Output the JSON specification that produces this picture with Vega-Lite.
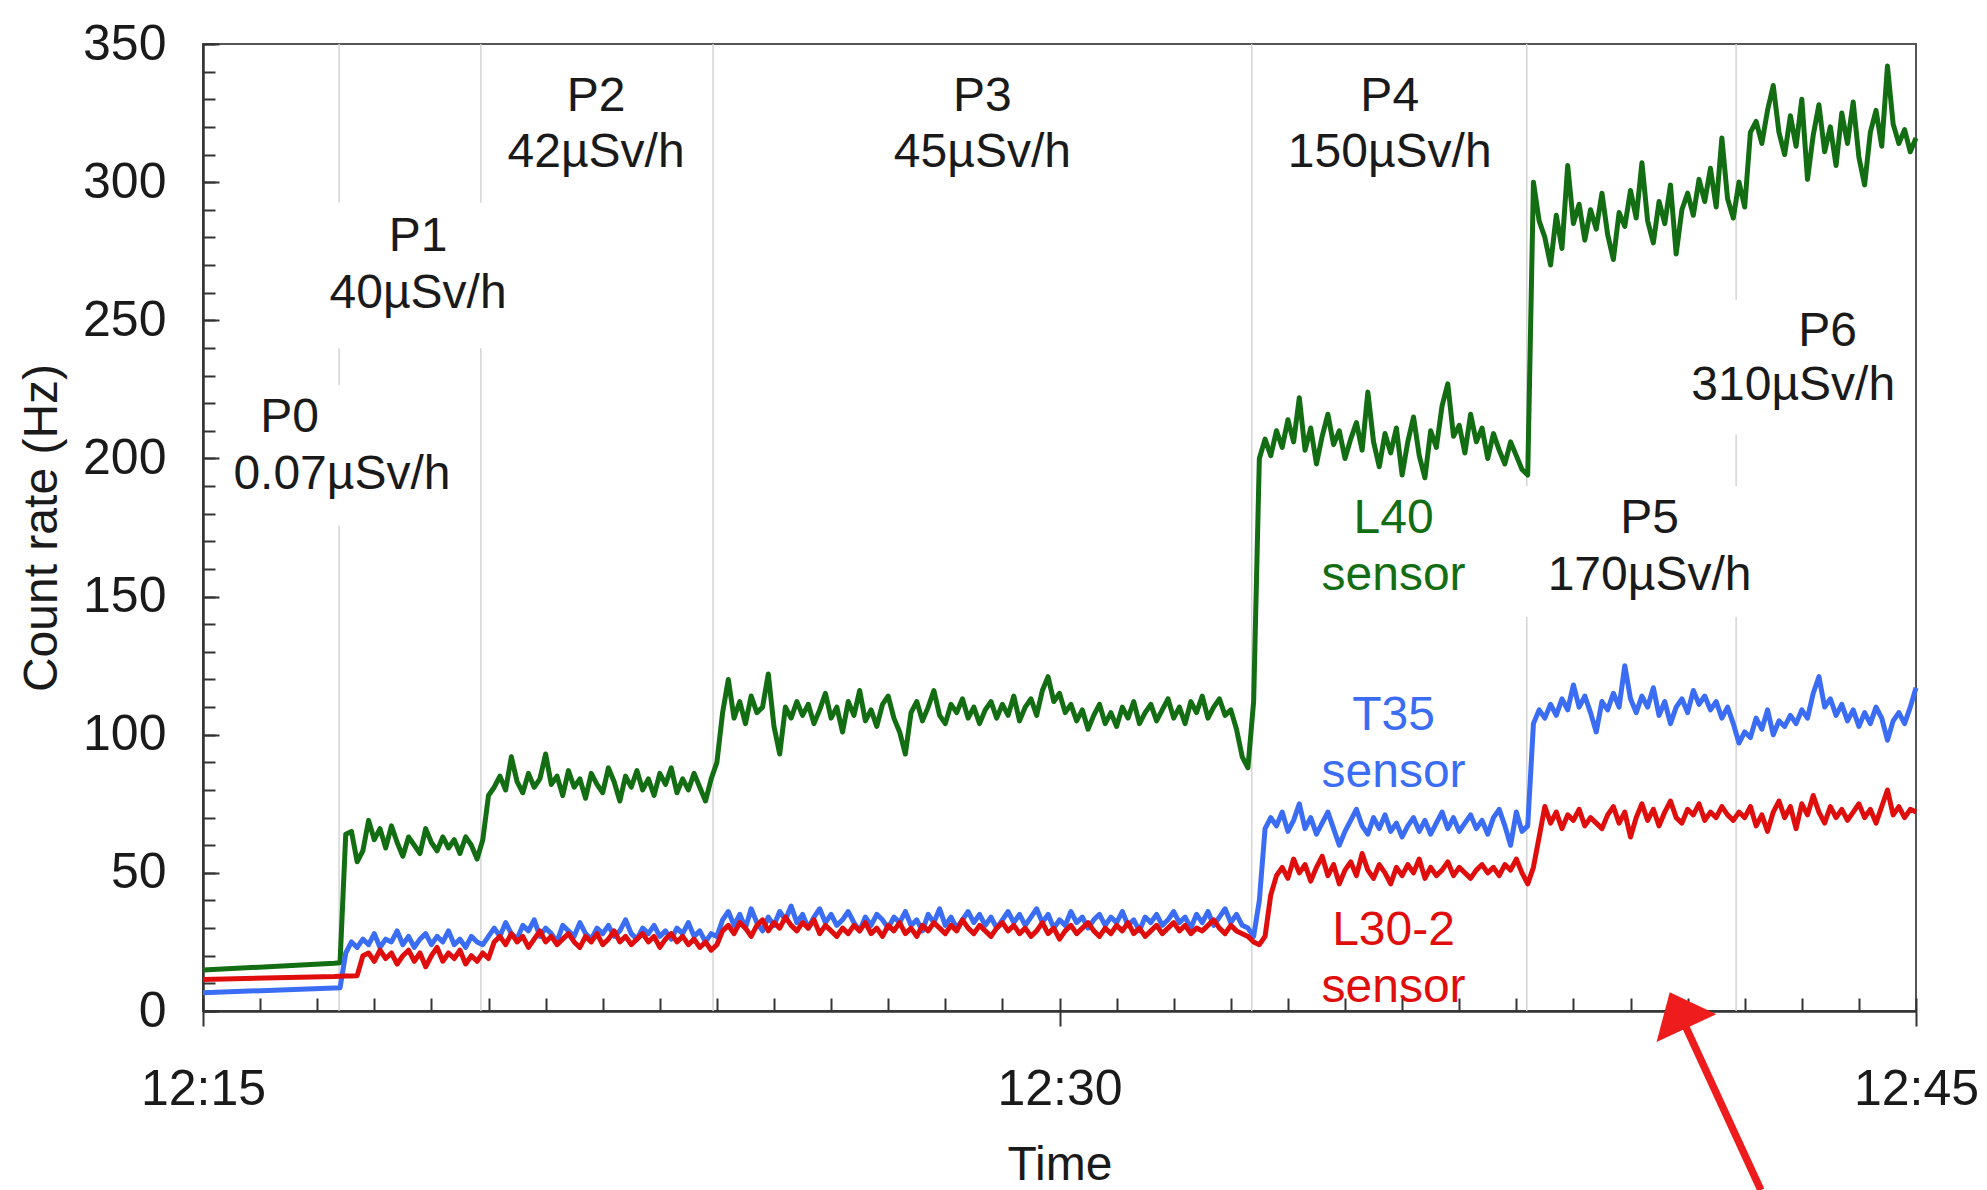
{
  "$schema": "https://vega.github.io/schema/vega-lite/v6.json",
  "width": 1713,
  "height": 967,
  "autosize": {"type": "none"},
  "padding": {"left": 203, "top": 44, "right": 71, "bottom": 179},
  "background": "white",
  "config": {
    "view": {"stroke": "#555555", "strokeWidth": 2},
    "axis": {
      "grid": false,
      "labelFont": "Liberation Sans",
      "labelFontSize": 50,
      "labelColor": "#1a1a1a",
      "titleFont": "Liberation Sans",
      "titleFontSize": 48,
      "titleFontWeight": "normal",
      "titleColor": "#1a1a1a",
      "domainColor": "#333333",
      "domainWidth": 2,
      "tickColor": "#333333",
      "tickWidth": 2
    },
    "text": {"font": "Liberation Sans"}
  },
  "resolve": {
    "scale": {"x": "shared", "y": "shared", "color": "shared"},
    "axis": {"x": "independent", "y": "independent"}
  },
  "layer": [
    {
      "data": {
        "values": [
          {"t": "2024-01-01T12:17:23", "y": 0, "y2": 175.7},
          {"t": "2024-01-01T12:17:23", "y": 226.6, "y2": 239.9},
          {"t": "2024-01-01T12:17:23", "y": 292.5, "y2": 350},
          {"t": "2024-01-01T12:19:52", "y": 0, "y2": 239.9},
          {"t": "2024-01-01T12:19:52", "y": 292.5, "y2": 350},
          {"t": "2024-01-01T12:23:56", "y": 0, "y2": 350},
          {"t": "2024-01-01T12:33:22", "y": 0, "y2": 350},
          {"t": "2024-01-01T12:38:11", "y": 0, "y2": 142.7},
          {"t": "2024-01-01T12:38:11", "y": 189.9, "y2": 350},
          {"t": "2024-01-01T12:41:51", "y": 0, "y2": 142.7},
          {"t": "2024-01-01T12:41:51", "y": 189.9, "y2": 208.7},
          {"t": "2024-01-01T12:41:51", "y": 257.4, "y2": 350}
        ]
      },
      "mark": {"type": "rule", "color": "#d4d4d4", "strokeWidth": 1.5},
      "encoding": {
        "x": {
          "field": "t", "type": "temporal",
          "scale": {"domain": [{"year": 2024, "month": 1, "date": 1, "hours": 12, "minutes": 15}, {"year": 2024, "month": 1, "date": 1, "hours": 12, "minutes": 45}], "nice": false},
          "axis": {"orient": "bottom", "values": [
            {"year": 2024, "month": 1, "date": 1, "hours": 12, "minutes": 15},
            {"year": 2024, "month": 1, "date": 1, "hours": 12, "minutes": 16},
            {"year": 2024, "month": 1, "date": 1, "hours": 12, "minutes": 17},
            {"year": 2024, "month": 1, "date": 1, "hours": 12, "minutes": 18},
            {"year": 2024, "month": 1, "date": 1, "hours": 12, "minutes": 19},
            {"year": 2024, "month": 1, "date": 1, "hours": 12, "minutes": 20},
            {"year": 2024, "month": 1, "date": 1, "hours": 12, "minutes": 21},
            {"year": 2024, "month": 1, "date": 1, "hours": 12, "minutes": 22},
            {"year": 2024, "month": 1, "date": 1, "hours": 12, "minutes": 23},
            {"year": 2024, "month": 1, "date": 1, "hours": 12, "minutes": 24},
            {"year": 2024, "month": 1, "date": 1, "hours": 12, "minutes": 25},
            {"year": 2024, "month": 1, "date": 1, "hours": 12, "minutes": 26},
            {"year": 2024, "month": 1, "date": 1, "hours": 12, "minutes": 27},
            {"year": 2024, "month": 1, "date": 1, "hours": 12, "minutes": 28},
            {"year": 2024, "month": 1, "date": 1, "hours": 12, "minutes": 29},
            {"year": 2024, "month": 1, "date": 1, "hours": 12, "minutes": 30},
            {"year": 2024, "month": 1, "date": 1, "hours": 12, "minutes": 31},
            {"year": 2024, "month": 1, "date": 1, "hours": 12, "minutes": 32},
            {"year": 2024, "month": 1, "date": 1, "hours": 12, "minutes": 33},
            {"year": 2024, "month": 1, "date": 1, "hours": 12, "minutes": 34},
            {"year": 2024, "month": 1, "date": 1, "hours": 12, "minutes": 35},
            {"year": 2024, "month": 1, "date": 1, "hours": 12, "minutes": 36},
            {"year": 2024, "month": 1, "date": 1, "hours": 12, "minutes": 37},
            {"year": 2024, "month": 1, "date": 1, "hours": 12, "minutes": 38},
            {"year": 2024, "month": 1, "date": 1, "hours": 12, "minutes": 39},
            {"year": 2024, "month": 1, "date": 1, "hours": 12, "minutes": 40},
            {"year": 2024, "month": 1, "date": 1, "hours": 12, "minutes": 41},
            {"year": 2024, "month": 1, "date": 1, "hours": 12, "minutes": 42},
            {"year": 2024, "month": 1, "date": 1, "hours": 12, "minutes": 43},
            {"year": 2024, "month": 1, "date": 1, "hours": 12, "minutes": 44},
            {"year": 2024, "month": 1, "date": 1, "hours": 12, "minutes": 45}
          ], "tickSize": -13, "labels": false, "title": null, "domain": true}
        },
        "y": {
          "field": "y", "type": "quantitative",
          "scale": {"domain": [0, 350], "nice": false},
          "axis": {"orient": "left", "values": [0,10,20,30,40,50,60,70,80,90,100,110,120,130,140,150,160,170,180,190,200,210,220,230,240,250,260,270,280,290,300,310,320,330,340,350], "tickSize": -12, "labels": false, "title": null, "domain": true}
        },
        "y2": {"field": "y2"}
      }
    },
    {
      "data": {
        "values": [
          {"t":"2024-01-01T12:15:00","g":14.8,"b":6.6,"r":11.4},
          {"t":"2024-01-01T12:17:18","g":17.3,"b":8.3,"r":12.5},
          {"t":"2024-01-01T12:17:24","g":17.5,"b":8.4,"r":12.6},
          {"t":"2024-01-01T12:17:30","g":64,"b":21,"r":12.7},
          {"t":"2024-01-01T12:17:36","g":65,"b":25,"r":12.7},
          {"t":"2024-01-01T12:17:42","g":54,"b":23,"r":12.8},
          {"t":"2024-01-01T12:17:48","g":58,"b":26,"r":20},
          {"t":"2024-01-01T12:17:54","g":69,"b":24,"r":21},
          {"t":"2024-01-01T12:18:00","g":62,"b":28,"r":18},
          {"t":"2024-01-01T12:18:06","g":66,"b":23,"r":22},
          {"t":"2024-01-01T12:18:12","g":59,"b":26,"r":19},
          {"t":"2024-01-01T12:18:18","g":67,"b":25,"r":21},
          {"t":"2024-01-01T12:18:24","g":61,"b":29,"r":17},
          {"t":"2024-01-01T12:18:30","g":56,"b":24,"r":20},
          {"t":"2024-01-01T12:18:36","g":63,"b":27,"r":22},
          {"t":"2024-01-01T12:18:42","g":60,"b":23,"r":18},
          {"t":"2024-01-01T12:18:48","g":57,"b":26,"r":21},
          {"t":"2024-01-01T12:18:54","g":66,"b":28,"r":16},
          {"t":"2024-01-01T12:19:00","g":61,"b":24,"r":20},
          {"t":"2024-01-01T12:19:06","g":58,"b":27,"r":23},
          {"t":"2024-01-01T12:19:12","g":63,"b":25,"r":18},
          {"t":"2024-01-01T12:19:18","g":59,"b":29,"r":21},
          {"t":"2024-01-01T12:19:24","g":62,"b":24,"r":19},
          {"t":"2024-01-01T12:19:30","g":57,"b":26,"r":22},
          {"t":"2024-01-01T12:19:36","g":63,"b":23,"r":17},
          {"t":"2024-01-01T12:19:42","g":60,"b":27,"r":20},
          {"t":"2024-01-01T12:19:48","g":55,"b":25,"r":18},
          {"t":"2024-01-01T12:19:54","g":62,"b":24,"r":21},
          {"t":"2024-01-01T12:20:00","g":78,"b":27,"r":19},
          {"t":"2024-01-01T12:20:06","g":81,"b":30,"r":25},
          {"t":"2024-01-01T12:20:12","g":85,"b":27,"r":27},
          {"t":"2024-01-01T12:20:18","g":80,"b":32,"r":24},
          {"t":"2024-01-01T12:20:24","g":92,"b":28,"r":28},
          {"t":"2024-01-01T12:20:30","g":83,"b":26,"r":25},
          {"t":"2024-01-01T12:20:36","g":79,"b":31,"r":27},
          {"t":"2024-01-01T12:20:42","g":86,"b":29,"r":23},
          {"t":"2024-01-01T12:20:48","g":81,"b":33,"r":26},
          {"t":"2024-01-01T12:20:54","g":84,"b":27,"r":29},
          {"t":"2024-01-01T12:21:00","g":93,"b":30,"r":25},
          {"t":"2024-01-01T12:21:06","g":82,"b":28,"r":27},
          {"t":"2024-01-01T12:21:12","g":85,"b":25,"r":24},
          {"t":"2024-01-01T12:21:18","g":78,"b":31,"r":26},
          {"t":"2024-01-01T12:21:24","g":87,"b":29,"r":28},
          {"t":"2024-01-01T12:21:30","g":81,"b":27,"r":25},
          {"t":"2024-01-01T12:21:36","g":84,"b":32,"r":23},
          {"t":"2024-01-01T12:21:42","g":77,"b":28,"r":27},
          {"t":"2024-01-01T12:21:48","g":86,"b":26,"r":25},
          {"t":"2024-01-01T12:21:54","g":82,"b":30,"r":28},
          {"t":"2024-01-01T12:22:00","g":79,"b":28,"r":24},
          {"t":"2024-01-01T12:22:06","g":88,"b":31,"r":26},
          {"t":"2024-01-01T12:22:12","g":83,"b":27,"r":29},
          {"t":"2024-01-01T12:22:18","g":76,"b":29,"r":25},
          {"t":"2024-01-01T12:22:24","g":85,"b":33,"r":27},
          {"t":"2024-01-01T12:22:30","g":81,"b":28,"r":24},
          {"t":"2024-01-01T12:22:36","g":87,"b":26,"r":26},
          {"t":"2024-01-01T12:22:42","g":80,"b":30,"r":28},
          {"t":"2024-01-01T12:22:48","g":84,"b":28,"r":25},
          {"t":"2024-01-01T12:22:54","g":78,"b":31,"r":27},
          {"t":"2024-01-01T12:23:00","g":86,"b":27,"r":23},
          {"t":"2024-01-01T12:23:06","g":82,"b":29,"r":26},
          {"t":"2024-01-01T12:23:12","g":88,"b":26,"r":28},
          {"t":"2024-01-01T12:23:18","g":79,"b":30,"r":25},
          {"t":"2024-01-01T12:23:24","g":84,"b":28,"r":27},
          {"t":"2024-01-01T12:23:30","g":80,"b":32,"r":24},
          {"t":"2024-01-01T12:23:36","g":86,"b":27,"r":26},
          {"t":"2024-01-01T12:23:42","g":81,"b":29,"r":23},
          {"t":"2024-01-01T12:23:48","g":76,"b":25,"r":25},
          {"t":"2024-01-01T12:23:54","g":84,"b":28,"r":22},
          {"t":"2024-01-01T12:24:00","g":90,"b":27,"r":24},
          {"t":"2024-01-01T12:24:06","g":108,"b":33,"r":29},
          {"t":"2024-01-01T12:24:12","g":120,"b":36,"r":31},
          {"t":"2024-01-01T12:24:18","g":106,"b":31,"r":28},
          {"t":"2024-01-01T12:24:24","g":112,"b":35,"r":32},
          {"t":"2024-01-01T12:24:30","g":104,"b":30,"r":30},
          {"t":"2024-01-01T12:24:36","g":114,"b":37,"r":27},
          {"t":"2024-01-01T12:24:42","g":108,"b":32,"r":31},
          {"t":"2024-01-01T12:24:48","g":110,"b":29,"r":33},
          {"t":"2024-01-01T12:24:54","g":122,"b":34,"r":29},
          {"t":"2024-01-01T12:25:00","g":103,"b":31,"r":32},
          {"t":"2024-01-01T12:25:06","g":93,"b":36,"r":30},
          {"t":"2024-01-01T12:25:12","g":110,"b":33,"r":34},
          {"t":"2024-01-01T12:25:18","g":106,"b":38,"r":31},
          {"t":"2024-01-01T12:25:24","g":112,"b":32,"r":29},
          {"t":"2024-01-01T12:25:30","g":107,"b":35,"r":32},
          {"t":"2024-01-01T12:25:36","g":111,"b":30,"r":30},
          {"t":"2024-01-01T12:25:42","g":104,"b":34,"r":33},
          {"t":"2024-01-01T12:25:48","g":109,"b":37,"r":28},
          {"t":"2024-01-01T12:25:54","g":115,"b":32,"r":31},
          {"t":"2024-01-01T12:26:00","g":106,"b":35,"r":29},
          {"t":"2024-01-01T12:26:06","g":110,"b":31,"r":27},
          {"t":"2024-01-01T12:26:12","g":101,"b":33,"r":30},
          {"t":"2024-01-01T12:26:18","g":112,"b":36,"r":28},
          {"t":"2024-01-01T12:26:24","g":107,"b":32,"r":31},
          {"t":"2024-01-01T12:26:30","g":116,"b":29,"r":29},
          {"t":"2024-01-01T12:26:36","g":105,"b":34,"r":32},
          {"t":"2024-01-01T12:26:42","g":109,"b":31,"r":28},
          {"t":"2024-01-01T12:26:48","g":103,"b":35,"r":30},
          {"t":"2024-01-01T12:26:54","g":111,"b":33,"r":27},
          {"t":"2024-01-01T12:27:00","g":114,"b":30,"r":31},
          {"t":"2024-01-01T12:27:06","g":106,"b":34,"r":29},
          {"t":"2024-01-01T12:27:12","g":101,"b":32,"r":32},
          {"t":"2024-01-01T12:27:18","g":93,"b":36,"r":28},
          {"t":"2024-01-01T12:27:24","g":108,"b":31,"r":30},
          {"t":"2024-01-01T12:27:30","g":112,"b":33,"r":27},
          {"t":"2024-01-01T12:27:36","g":105,"b":29,"r":31},
          {"t":"2024-01-01T12:27:42","g":110,"b":35,"r":29},
          {"t":"2024-01-01T12:27:48","g":116,"b":32,"r":32},
          {"t":"2024-01-01T12:27:54","g":107,"b":37,"r":30},
          {"t":"2024-01-01T12:28:00","g":104,"b":31,"r":28},
          {"t":"2024-01-01T12:28:06","g":111,"b":34,"r":31},
          {"t":"2024-01-01T12:28:12","g":108,"b":30,"r":29},
          {"t":"2024-01-01T12:28:18","g":113,"b":33,"r":33},
          {"t":"2024-01-01T12:28:24","g":106,"b":36,"r":30},
          {"t":"2024-01-01T12:28:30","g":110,"b":32,"r":28},
          {"t":"2024-01-01T12:28:36","g":104,"b":35,"r":31},
          {"t":"2024-01-01T12:28:42","g":109,"b":31,"r":29},
          {"t":"2024-01-01T12:28:48","g":112,"b":34,"r":27},
          {"t":"2024-01-01T12:28:54","g":106,"b":30,"r":30},
          {"t":"2024-01-01T12:29:00","g":111,"b":33,"r":32},
          {"t":"2024-01-01T12:29:06","g":107,"b":36,"r":29},
          {"t":"2024-01-01T12:29:12","g":114,"b":32,"r":31},
          {"t":"2024-01-01T12:29:18","g":105,"b":35,"r":28},
          {"t":"2024-01-01T12:29:24","g":110,"b":31,"r":30},
          {"t":"2024-01-01T12:29:30","g":113,"b":34,"r":27},
          {"t":"2024-01-01T12:29:36","g":107,"b":37,"r":29},
          {"t":"2024-01-01T12:29:42","g":116,"b":32,"r":32},
          {"t":"2024-01-01T12:29:48","g":121,"b":35,"r":28},
          {"t":"2024-01-01T12:29:54","g":112,"b":30,"r":30},
          {"t":"2024-01-01T12:30:00","g":115,"b":33,"r":26},
          {"t":"2024-01-01T12:30:06","g":108,"b":31,"r":29},
          {"t":"2024-01-01T12:30:12","g":111,"b":36,"r":31},
          {"t":"2024-01-01T12:30:18","g":105,"b":32,"r":28},
          {"t":"2024-01-01T12:30:24","g":109,"b":34,"r":30},
          {"t":"2024-01-01T12:30:30","g":102,"b":30,"r":32},
          {"t":"2024-01-01T12:30:36","g":107,"b":33,"r":29},
          {"t":"2024-01-01T12:30:42","g":111,"b":35,"r":27},
          {"t":"2024-01-01T12:30:48","g":104,"b":31,"r":30},
          {"t":"2024-01-01T12:30:54","g":108,"b":34,"r":28},
          {"t":"2024-01-01T12:31:00","g":103,"b":32,"r":31},
          {"t":"2024-01-01T12:31:06","g":110,"b":36,"r":29},
          {"t":"2024-01-01T12:31:12","g":106,"b":31,"r":32},
          {"t":"2024-01-01T12:31:18","g":112,"b":33,"r":28},
          {"t":"2024-01-01T12:31:24","g":104,"b":29,"r":30},
          {"t":"2024-01-01T12:31:30","g":108,"b":34,"r":27},
          {"t":"2024-01-01T12:31:36","g":111,"b":32,"r":29},
          {"t":"2024-01-01T12:31:42","g":105,"b":35,"r":31},
          {"t":"2024-01-01T12:31:48","g":109,"b":31,"r":28},
          {"t":"2024-01-01T12:31:54","g":113,"b":33,"r":30},
          {"t":"2024-01-01T12:32:00","g":106,"b":36,"r":32},
          {"t":"2024-01-01T12:32:06","g":110,"b":32,"r":29},
          {"t":"2024-01-01T12:32:12","g":104,"b":34,"r":31},
          {"t":"2024-01-01T12:32:18","g":112,"b":30,"r":28},
          {"t":"2024-01-01T12:32:24","g":108,"b":35,"r":30},
          {"t":"2024-01-01T12:32:30","g":114,"b":32,"r":29},
          {"t":"2024-01-01T12:32:36","g":106,"b":36,"r":31},
          {"t":"2024-01-01T12:32:42","g":110,"b":31,"r":33},
          {"t":"2024-01-01T12:32:48","g":113,"b":34,"r":30},
          {"t":"2024-01-01T12:32:54","g":107,"b":37,"r":28},
          {"t":"2024-01-01T12:33:00","g":109,"b":32,"r":31},
          {"t":"2024-01-01T12:33:06","g":102,"b":35,"r":29},
          {"t":"2024-01-01T12:33:12","g":92,"b":31,"r":28},
          {"t":"2024-01-01T12:33:18","g":88,"b":30,"r":27},
          {"t":"2024-01-01T12:33:24","g":112,"b":27,"r":25},
          {"t":"2024-01-01T12:33:30","g":200,"b":40,"r":24},
          {"t":"2024-01-01T12:33:36","g":207,"b":66,"r":27},
          {"t":"2024-01-01T12:33:42","g":201,"b":70,"r":42},
          {"t":"2024-01-01T12:33:48","g":210,"b":67,"r":49},
          {"t":"2024-01-01T12:33:54","g":204,"b":72,"r":52},
          {"t":"2024-01-01T12:34:00","g":214,"b":65,"r":48},
          {"t":"2024-01-01T12:34:06","g":206,"b":69,"r":55},
          {"t":"2024-01-01T12:34:12","g":222,"b":75,"r":50},
          {"t":"2024-01-01T12:34:18","g":203,"b":66,"r":53},
          {"t":"2024-01-01T12:34:24","g":211,"b":70,"r":47},
          {"t":"2024-01-01T12:34:30","g":198,"b":64,"r":52},
          {"t":"2024-01-01T12:34:36","g":208,"b":68,"r":56},
          {"t":"2024-01-01T12:34:42","g":216,"b":72,"r":49},
          {"t":"2024-01-01T12:34:48","g":205,"b":66,"r":53},
          {"t":"2024-01-01T12:34:54","g":210,"b":60,"r":46},
          {"t":"2024-01-01T12:35:00","g":200,"b":65,"r":51},
          {"t":"2024-01-01T12:35:06","g":207,"b":69,"r":54},
          {"t":"2024-01-01T12:35:12","g":213,"b":73,"r":49},
          {"t":"2024-01-01T12:35:18","g":203,"b":67,"r":57},
          {"t":"2024-01-01T12:35:24","g":224,"b":64,"r":51},
          {"t":"2024-01-01T12:35:30","g":206,"b":70,"r":48},
          {"t":"2024-01-01T12:35:36","g":197,"b":66,"r":53},
          {"t":"2024-01-01T12:35:42","g":209,"b":71,"r":50},
          {"t":"2024-01-01T12:35:48","g":202,"b":65,"r":46},
          {"t":"2024-01-01T12:35:54","g":211,"b":68,"r":52},
          {"t":"2024-01-01T12:36:00","g":194,"b":63,"r":49},
          {"t":"2024-01-01T12:36:06","g":206,"b":67,"r":53},
          {"t":"2024-01-01T12:36:12","g":215,"b":70,"r":50},
          {"t":"2024-01-01T12:36:18","g":201,"b":65,"r":55},
          {"t":"2024-01-01T12:36:24","g":193,"b":69,"r":48},
          {"t":"2024-01-01T12:36:30","g":210,"b":64,"r":52},
          {"t":"2024-01-01T12:36:36","g":204,"b":68,"r":49},
          {"t":"2024-01-01T12:36:42","g":219,"b":72,"r":51},
          {"t":"2024-01-01T12:36:48","g":227,"b":66,"r":54},
          {"t":"2024-01-01T12:36:54","g":208,"b":70,"r":49},
          {"t":"2024-01-01T12:37:00","g":212,"b":65,"r":52},
          {"t":"2024-01-01T12:37:06","g":202,"b":68,"r":50},
          {"t":"2024-01-01T12:37:12","g":216,"b":71,"r":48},
          {"t":"2024-01-01T12:37:18","g":206,"b":66,"r":51},
          {"t":"2024-01-01T12:37:24","g":211,"b":69,"r":53},
          {"t":"2024-01-01T12:37:30","g":200,"b":64,"r":50},
          {"t":"2024-01-01T12:37:36","g":209,"b":70,"r":52},
          {"t":"2024-01-01T12:37:42","g":203,"b":73,"r":49},
          {"t":"2024-01-01T12:37:48","g":198,"b":67,"r":53},
          {"t":"2024-01-01T12:37:54","g":206,"b":60,"r":51},
          {"t":"2024-01-01T12:38:00","g":201,"b":72,"r":55},
          {"t":"2024-01-01T12:38:06","g":196,"b":65,"r":50},
          {"t":"2024-01-01T12:38:12","g":194,"b":67,"r":46},
          {"t":"2024-01-01T12:38:18","g":300,"b":104,"r":52},
          {"t":"2024-01-01T12:38:24","g":286,"b":109,"r":63},
          {"t":"2024-01-01T12:38:30","g":280,"b":106,"r":74},
          {"t":"2024-01-01T12:38:36","g":270,"b":111,"r":68},
          {"t":"2024-01-01T12:38:42","g":288,"b":107,"r":72},
          {"t":"2024-01-01T12:38:48","g":276,"b":113,"r":66},
          {"t":"2024-01-01T12:38:54","g":306,"b":109,"r":71},
          {"t":"2024-01-01T12:39:00","g":285,"b":118,"r":69},
          {"t":"2024-01-01T12:39:06","g":292,"b":110,"r":73},
          {"t":"2024-01-01T12:39:12","g":279,"b":114,"r":67},
          {"t":"2024-01-01T12:39:18","g":290,"b":108,"r":70},
          {"t":"2024-01-01T12:39:24","g":283,"b":101,"r":68},
          {"t":"2024-01-01T12:39:30","g":296,"b":112,"r":66},
          {"t":"2024-01-01T12:39:36","g":281,"b":109,"r":71},
          {"t":"2024-01-01T12:39:42","g":272,"b":115,"r":74},
          {"t":"2024-01-01T12:39:48","g":289,"b":110,"r":68},
          {"t":"2024-01-01T12:39:54","g":284,"b":125,"r":72},
          {"t":"2024-01-01T12:40:00","g":297,"b":113,"r":63},
          {"t":"2024-01-01T12:40:06","g":287,"b":108,"r":70},
          {"t":"2024-01-01T12:40:12","g":307,"b":114,"r":75},
          {"t":"2024-01-01T12:40:18","g":286,"b":110,"r":69},
          {"t":"2024-01-01T12:40:24","g":278,"b":117,"r":73},
          {"t":"2024-01-01T12:40:30","g":293,"b":107,"r":67},
          {"t":"2024-01-01T12:40:36","g":285,"b":112,"r":72},
          {"t":"2024-01-01T12:40:42","g":299,"b":104,"r":76},
          {"t":"2024-01-01T12:40:48","g":274,"b":110,"r":70},
          {"t":"2024-01-01T12:40:54","g":290,"b":113,"r":68},
          {"t":"2024-01-01T12:41:00","g":296,"b":108,"r":73},
          {"t":"2024-01-01T12:41:06","g":288,"b":116,"r":71},
          {"t":"2024-01-01T12:41:12","g":301,"b":111,"r":75},
          {"t":"2024-01-01T12:41:18","g":293,"b":114,"r":69},
          {"t":"2024-01-01T12:41:24","g":305,"b":109,"r":72},
          {"t":"2024-01-01T12:41:30","g":291,"b":112,"r":70},
          {"t":"2024-01-01T12:41:36","g":316,"b":106,"r":74},
          {"t":"2024-01-01T12:41:42","g":294,"b":110,"r":71},
          {"t":"2024-01-01T12:41:48","g":287,"b":104,"r":69},
          {"t":"2024-01-01T12:41:54","g":300,"b":97,"r":72},
          {"t":"2024-01-01T12:42:00","g":291,"b":101,"r":70},
          {"t":"2024-01-01T12:42:06","g":318,"b":99,"r":74},
          {"t":"2024-01-01T12:42:12","g":322,"b":106,"r":67},
          {"t":"2024-01-01T12:42:18","g":314,"b":102,"r":71},
          {"t":"2024-01-01T12:42:24","g":326,"b":109,"r":65},
          {"t":"2024-01-01T12:42:30","g":335,"b":100,"r":72},
          {"t":"2024-01-01T12:42:36","g":318,"b":105,"r":76},
          {"t":"2024-01-01T12:42:42","g":310,"b":103,"r":70},
          {"t":"2024-01-01T12:42:48","g":324,"b":107,"r":74},
          {"t":"2024-01-01T12:42:54","g":313,"b":104,"r":66},
          {"t":"2024-01-01T12:43:00","g":330,"b":109,"r":75},
          {"t":"2024-01-01T12:43:06","g":301,"b":106,"r":71},
          {"t":"2024-01-01T12:43:12","g":317,"b":115,"r":78},
          {"t":"2024-01-01T12:43:18","g":328,"b":121,"r":72},
          {"t":"2024-01-01T12:43:24","g":311,"b":110,"r":68},
          {"t":"2024-01-01T12:43:30","g":320,"b":113,"r":74},
          {"t":"2024-01-01T12:43:36","g":306,"b":107,"r":70},
          {"t":"2024-01-01T12:43:42","g":325,"b":111,"r":73},
          {"t":"2024-01-01T12:43:48","g":314,"b":105,"r":69},
          {"t":"2024-01-01T12:43:54","g":329,"b":109,"r":72},
          {"t":"2024-01-01T12:44:00","g":309,"b":103,"r":75},
          {"t":"2024-01-01T12:44:06","g":299,"b":108,"r":70},
          {"t":"2024-01-01T12:44:12","g":318,"b":104,"r":73},
          {"t":"2024-01-01T12:44:18","g":326,"b":110,"r":68},
          {"t":"2024-01-01T12:44:24","g":313,"b":106,"r":74},
          {"t":"2024-01-01T12:44:30","g":342,"b":98,"r":80},
          {"t":"2024-01-01T12:44:36","g":321,"b":105,"r":71},
          {"t":"2024-01-01T12:44:42","g":314,"b":108,"r":74},
          {"t":"2024-01-01T12:44:48","g":319,"b":104,"r":70},
          {"t":"2024-01-01T12:44:54","g":311,"b":110,"r":73},
          {"t":"2024-01-01T12:45:00","g":316,"b":117,"r":72}
        ]
      },
      "transform": [{"fold": ["g", "b", "r"], "as": ["series", "v"]}],
      "mark": {"type": "line", "strokeWidth": 5, "strokeJoin": "round"},
      "encoding": {
        "x": {
          "field": "t", "type": "temporal",
          "scale": {"domain": [{"year": 2024, "month": 1, "date": 1, "hours": 12, "minutes": 15}, {"year": 2024, "month": 1, "date": 1, "hours": 12, "minutes": 45}], "nice": false},
          "axis": {"orient": "bottom", "values": [
            {"year": 2024, "month": 1, "date": 1, "hours": 12, "minutes": 15},
            {"year": 2024, "month": 1, "date": 1, "hours": 12, "minutes": 30},
            {"year": 2024, "month": 1, "date": 1, "hours": 12, "minutes": 45}
          ], "tickSize": 15, "format": "%H:%M", "labelFlush": false, "labelOverlap": false, "labelPadding": 38, "title": "Time", "titlePadding": 27, "domain": true}
        },
        "y": {
          "field": "v", "type": "quantitative",
          "scale": {"domain": [0, 350], "nice": false},
          "axis": {"orient": "left", "values": [0,50,100,150,200,250,300,350], "tickSize": -16, "labelPadding": 53, "labelFlush": false, "labelOverlap": false, "title": "Count rate (Hz)", "titleFontSize": 48, "titlePadding": 16, "domain": true}
        },
        "color": {
          "field": "series", "type": "nominal",
          "scale": {"domain": ["g", "b", "r", "p"], "range": ["#136d13", "#3b6df4", "#e00d0d", "#1a1a1a"]},
          "legend": null
        }
      }
    },
    {
      "data": {
        "values": [
          {"t": "2024-01-01T12:16:31", "v": 214.7, "s": "P0", "k": "p"},
          {"t": "2024-01-01T12:17:26", "v": 194.0, "s": "0.07µSv/h", "k": "p"},
          {"t": "2024-01-01T12:18:46", "v": 280.3, "s": "P1", "k": "p"},
          {"t": "2024-01-01T12:18:46", "v": 259.6, "s": "40µSv/h", "k": "p"},
          {"t": "2024-01-01T12:21:53", "v": 330.7, "s": "P2", "k": "p"},
          {"t": "2024-01-01T12:21:53", "v": 310.5, "s": "42µSv/h", "k": "p"},
          {"t": "2024-01-01T12:28:39", "v": 330.7, "s": "P3", "k": "p"},
          {"t": "2024-01-01T12:28:39", "v": 310.5, "s": "45µSv/h", "k": "p"},
          {"t": "2024-01-01T12:35:47", "v": 330.7, "s": "P4", "k": "p"},
          {"t": "2024-01-01T12:35:47", "v": 310.5, "s": "150µSv/h", "k": "p"},
          {"t": "2024-01-01T12:40:20", "v": 178.0, "s": "P5", "k": "p"},
          {"t": "2024-01-01T12:40:20", "v": 157.3, "s": "170µSv/h", "k": "p"},
          {"t": "2024-01-01T12:43:27", "v": 245.9, "s": "P6", "k": "p"},
          {"t": "2024-01-01T12:42:51", "v": 226.1, "s": "310µSv/h", "k": "p"},
          {"t": "2024-01-01T12:35:51", "v": 178.0, "s": "L40", "k": "g"},
          {"t": "2024-01-01T12:35:51", "v": 157.3, "s": "sensor", "k": "g"},
          {"t": "2024-01-01T12:35:51", "v": 106.9, "s": "T35", "k": "b"},
          {"t": "2024-01-01T12:35:51", "v": 86.2, "s": "sensor", "k": "b"},
          {"t": "2024-01-01T12:35:51", "v": 28.9, "s": "L30-2", "k": "r"},
          {"t": "2024-01-01T12:35:51", "v": 8.3, "s": "sensor", "k": "r"}
        ]
      },
      "mark": {"type": "text", "fontSize": 48, "align": "center", "baseline": "middle", "font": "Liberation Sans"},
      "encoding": {
        "x": {"field": "t", "type": "temporal", "axis": null,
          "scale": {"domain": [{"year": 2024, "month": 1, "date": 1, "hours": 12, "minutes": 15}, {"year": 2024, "month": 1, "date": 1, "hours": 12, "minutes": 45}], "nice": false}},
        "y": {"field": "v", "type": "quantitative", "axis": null, "scale": {"domain": [0, 350], "nice": false}},
        "text": {"field": "s"},
        "color": {"field": "k", "type": "nominal", "legend": null,
          "scale": {"domain": ["g", "b", "r", "p"], "range": ["#136d13", "#3b6df4", "#e00d0d", "#1a1a1a"]}}
      }
    },
    {
      "data": {
        "values": [
          {"t": "2024-01-01T12:42:17", "v": -64.8, "t2": "2024-01-01T12:40:50", "v2": 0.3}
        ]
      },
      "mark": {"type": "rule", "color": "#ee1c1c", "strokeWidth": 7.5, "strokeCap": "butt"},
      "encoding": {
        "x": {"field": "t", "type": "temporal", "axis": null,
          "scale": {"domain": [{"year": 2024, "month": 1, "date": 1, "hours": 12, "minutes": 15}, {"year": 2024, "month": 1, "date": 1, "hours": 12, "minutes": 45}], "nice": false}},
        "y": {"field": "v", "type": "quantitative", "axis": null, "scale": {"domain": [0, 350], "nice": false}},
        "x2": {"field": "t2"},
        "y2": {"field": "v2"}
      }
    },
    {
      "data": {
        "values": [
          {"t": "2024-01-01T12:40:50", "v": 0.3}
        ]
      },
      "mark": {"type": "point", "shape": "M0,-0.6L1,0.6L-1,0.6Z", "filled": true, "size": 4356, "angle": 335, "color": "#ee1c1c", "opacity": 1, "strokeWidth": 0},
      "encoding": {
        "x": {"field": "t", "type": "temporal", "axis": null,
          "scale": {"domain": [{"year": 2024, "month": 1, "date": 1, "hours": 12, "minutes": 15}, {"year": 2024, "month": 1, "date": 1, "hours": 12, "minutes": 45}], "nice": false}},
        "y": {"field": "v", "type": "quantitative", "axis": null, "scale": {"domain": [0, 350], "nice": false}}
      }
    }
  ]
}
